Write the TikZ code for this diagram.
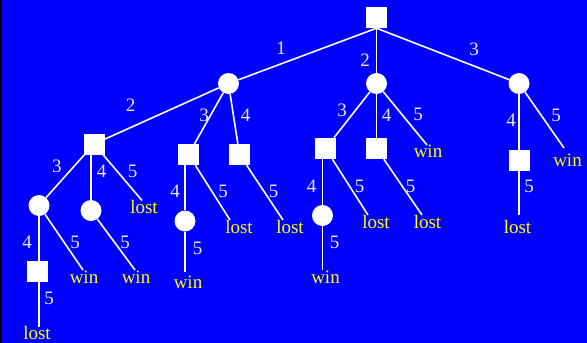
\documentclass[tikz,border=0pt]{standalone}
\usepackage{fontspec}
\setmainfont{Liberation Serif}
\definecolor{bgc}{RGB}{0,0,255}
\definecolor{labc}{RGB}{235,235,235}
\definecolor{resc}{RGB}{255,255,0}
\begin{document}
\begin{tikzpicture}[x=1pt,y=-1pt,
  sq/.style={fill=white,draw=none,minimum size=21pt,inner sep=0pt,rectangle},
  ci/.style={fill=white,draw=none,minimum size=21pt,inner sep=0pt,circle},
  edge/.style={draw=white,line width=1.6pt},
  num/.style={text=labc,inner sep=0pt,font=\fontsize{19}{19}\selectfont},
  outc/.style={text=resc,inner sep=0pt,anchor=base,font=\fontsize{19}{19}\selectfont}]
\fill[bgc] (0,0) rectangle (587,343);
\fill[black] (0,0) rectangle (2,343);
\useasboundingbox (0,0) rectangle (587,343);
% inner nodes
\node[sq] (r) at (376.5,17.5) {};
\node[ci] (a) at (228.5,83.5) {};
\node[ci] (b) at (376.5,83.5) {};
\node[ci] (c) at (519,83.5) {};
\node[sq] (a1) at (94,144) {};
\node[sq] (a2) at (188.5,154.5) {};
\node[sq] (a3) at (239.5,154.5) {};
\node[sq] (b1) at (325.5,148.5) {};
\node[sq] (b2) at (376.5,148.5) {};
\node[sq] (c1) at (519,160.5) {};
\node[ci] (a11) at (39,205.5) {};
\node[ci] (a12) at (91,210.5) {};
\node[sq] (a111) at (37,271.5) {};
\node[ci] (a21) at (185,221) {};
\node[ci] (b11) at (322.5,215.5) {};
% leaf ends
\coordinate (bw) at (427,145);
\coordinate (cw) at (564,148);
\coordinate (a1l) at (142,200.5);
\coordinate (a11w) at (83,270);
\coordinate (a12w) at (135,270);
\coordinate (a111l) at (39,327);
\coordinate (a21w) at (185,272);
\coordinate (a2l) at (230,220);
\coordinate (a3l) at (283,220);
\coordinate (b1l) at (368,215);
\coordinate (b11w) at (322.5,270);
\coordinate (b2l) at (422,215);
\coordinate (c1l) at (519,215);
% edges
\draw[edge] (r.south) -- (a);
\draw[edge] (r.south) -- (b);
\draw[edge] (r.south) -- (c);
\draw[edge] (a) -- (a1);
\draw[edge] (a) -- (a2);
\draw[edge] (a) -- (a3);
\draw[edge] (b) -- (b1);
\draw[edge] (b) -- (b2);
\draw[edge] (b) -- (bw);
\draw[edge] (c) -- (c1);
\draw[edge] (c) -- (cw);
\draw[edge] (a1) -- (a11);
\draw[edge] (a12) -- (a12 |- a1.south);
\draw[edge] (a1) -- (a1l);
\draw[edge] (a11) -- (a111l);
\draw[edge] (a11) -- (a11w);
\draw[edge] (a12) -- (a12w);
\draw[edge] (a21) -- (a21 |- a2.south);
\draw[edge] (a21) -- (a21w);
\draw[edge] (a2) -- (a2l);
\draw[edge] (a3) -- (a3l);
\draw[edge] (b11) -- (b11 |- b1.south);
\draw[edge] (b11) -- (b11w);
\draw[edge] (b1) -- (b1l);
\draw[edge] (b2) -- (b2l);
\draw[edge] (c1) -- (c1l);
\node[sq] at (a111) {};
% edge labels
\node[num] (n1) at (281,48) {1};
\node[num] (n2) at (365,60) {2};
\node[num] (n3) at (474,49) {3};
\node[num] (n4) at (130.5,105) {2};
\node[num] (n5) at (204,115) {3};
\node[num] (n6) at (245.5,115) {4};
\node[num] (n7) at (342,110) {3};
\node[num] (n8) at (386.5,115) {4};
\node[num] (n9) at (418,114) {5};
\node[num] (n10) at (511,120) {4};
\node[num] (n11) at (556,115) {5};
\node[num] (n12) at (57,166) {3};
\node[num] (n13) at (101.5,171) {4};
\node[num] (n14) at (132.5,171) {5};
\node[num] (n15) at (27,242) {4};
\node[num] (n16) at (75,242) {5};
\node[num] (n17) at (125,242) {5};
\node[num] (n18) at (49,298.5) {5};
\node[num] (n19) at (175,191.5) {4};
\node[num] (n20) at (197.5,248) {5};
\node[num] (n21) at (223,191.5) {5};
\node[num] (n22) at (273.5,191.5) {5};
\node[num] (n23) at (311.5,186) {4};
\node[num] (n24) at (334.5,242) {5};
\node[num] (n25) at (359.5,186) {5};
\node[num] (n26) at (410.5,186) {5};
\node[num] (n27) at (529,186) {5};
% outcomes
\node[outc] (t1) at (428,157) {win};
\node[outc] (t2) at (567.5,166.5) {win};
\node[outc] (t3) at (144,213) {lost};
\node[outc] (t4) at (84,283) {win};
\node[outc] (t5) at (136,283) {win};
\node[outc] (t6) at (37,339) {lost};
\node[outc] (t7) at (188,288) {win};
\node[outc] (t8) at (239,233) {lost};
\node[outc] (t9) at (290,233) {lost};
\node[outc] (t10) at (376,228) {lost};
\node[outc] (t11) at (325.5,283) {win};
\node[outc] (t12) at (427.5,228) {lost};
\node[outc] (t13) at (517.5,233) {lost};
\end{tikzpicture}
\end{document}
